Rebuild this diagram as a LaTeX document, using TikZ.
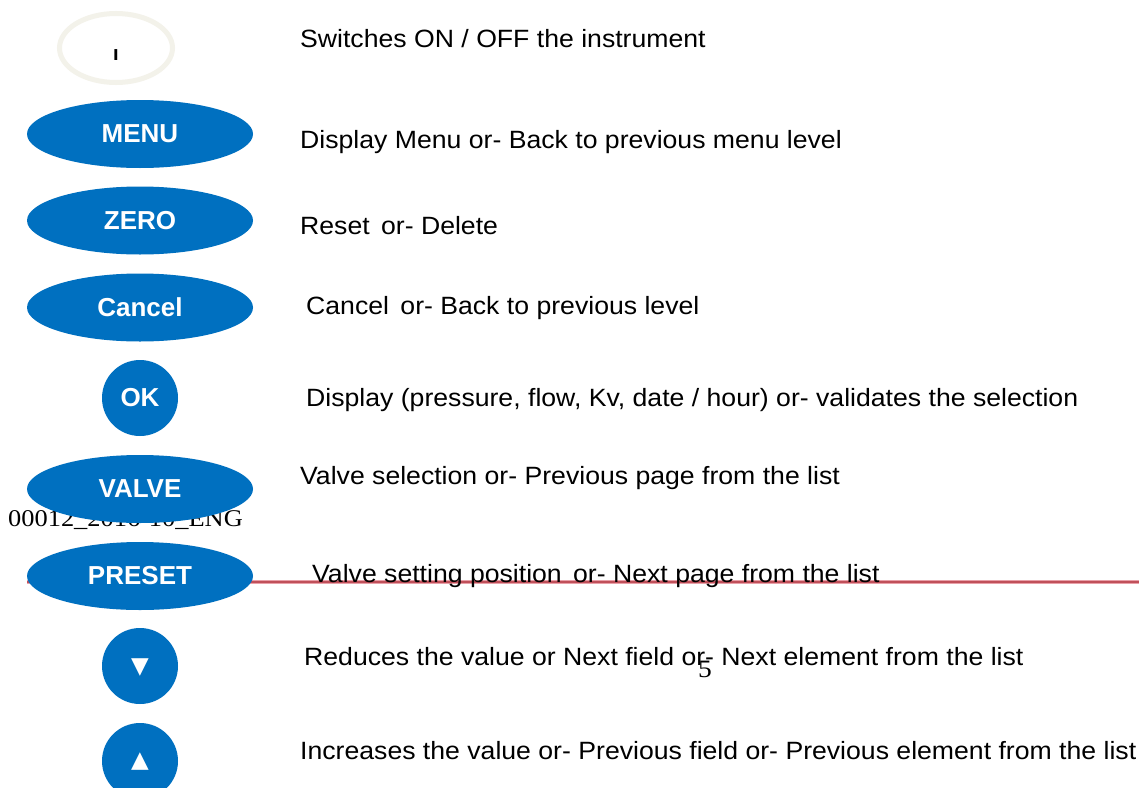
\documentclass[tikz,border=0pt]{standalone}
\usepackage{fontspec}
\setmainfont{Liberation Sans}
\newfontfamily\descfont{Liberation Sans}[FakeStretch=1.065]
\newfontfamily\serifstretch{Liberation Serif}[FakeStretch=1.1]
\newfontfamily\symfont{DejaVu Sans}
\usetikzlibrary{shapes.geometric}
\definecolor{btnblue}{HTML}{0070C0}
\definecolor{ringgrey}{RGB}{243,242,234}
\definecolor{redhalo}{RGB}{232,160,168}
\definecolor{redcore}{RGB}{192,80,90}
\begin{document}
\begin{tikzpicture}[x=1pt,y=-1pt,
  btn/.style={ellipse, fill=btnblue, minimum width=226pt, minimum height=68pt, inner sep=0pt,
    text=white, font=\fontsize{26}{26}\selectfont\bfseries},
  rbtn/.style={circle, fill=btnblue, minimum size=76pt, inner sep=0pt,
    text=white, font=\fontsize{26}{26}\selectfont\bfseries},
  tri/.style={inner sep=0pt, text=white, font=\symfont\fontsize{23}{23}\selectfont},
  desc/.style={anchor=base west, inner sep=0pt, font=\descfont\fontsize{25}{25}\selectfont},
  serifnote/.style={anchor=base west, inner sep=0pt, font=\serifstretch\fontsize{24}{24}\selectfont}]
\useasboundingbox (0,0) rectangle (1139,787);
\fill[white] (0,0) rectangle (1139,787);

% red rule
\coordinate (rl) at (27,582);
\coordinate (rr) at (1139,582);
\draw[redhalo, line width=4.5pt] (rl) -- (rr);
\draw[redcore, line width=2pt] (rl) -- (rr);

% footer texts
\node[serifnote] (code) at (8,526) {00012\_2016-10\_ENG};
\node[inner sep=0pt, anchor=base, font=\serifstretch\fontsize{25}{25}\selectfont] (page) at (705,677) {5};

% power button
\node[ellipse, draw=ringgrey, line width=5pt, minimum width=113pt, minimum height=69pt, inner sep=0pt] (power) at (116,48) {};
\node[inner sep=0pt, font=\symfont\fontsize{15}{15}\selectfont\bfseries] (powermark) at (116,55) {I};

% buttons
\node[btn] (menu) at (140,134) {MENU};
\node[btn] (zero) at (140,220.5) {ZERO};
\node[btn] (cancel) at (140,307.5) {Cancel};
\node[rbtn] (ok) at (140,398) {OK};
\node[btn] (valve) at (140,489) {VALVE};
\node[btn] (preset) at (140,576) {PRESET};
\node[rbtn] (down) at (140,666) {};
\node[tri] (downmark) at (140,668) {▼};
\node[rbtn] (up) at (140,761) {};
\node[tri] (upmark) at (140,762) {▲};

% descriptions
\node[desc] (d1) at (300,47) {Switches ON / OFF the instrument};
\node[desc] (d2) at (300,148) {Display Menu or- Back to previous menu level};
\node[desc] (d3) at (300,234) {Reset\hspace{4pt} or- Delete};
\node[desc] (d4) at (306,314) {Cancel\hspace{4pt} or- Back to previous level};
\node[desc] (d5) at (306,406) {Display (pressure, flow, Kv, date / hour) or- validates the selection};
\node[desc] (d6) at (300,484) {Valve selection or- Previous page from the list};
\node[desc] (d7) at (312,582) {Valve setting position\hspace{4pt} or- Next page from the list};
\node[desc] (d8) at (304,665) {Reduces the value or Next field or- Next element from the list};
\node[desc] (d9) at (300,759) {Increases the value or- Previous field or- Previous element from the list};
\end{tikzpicture}
\end{document}
